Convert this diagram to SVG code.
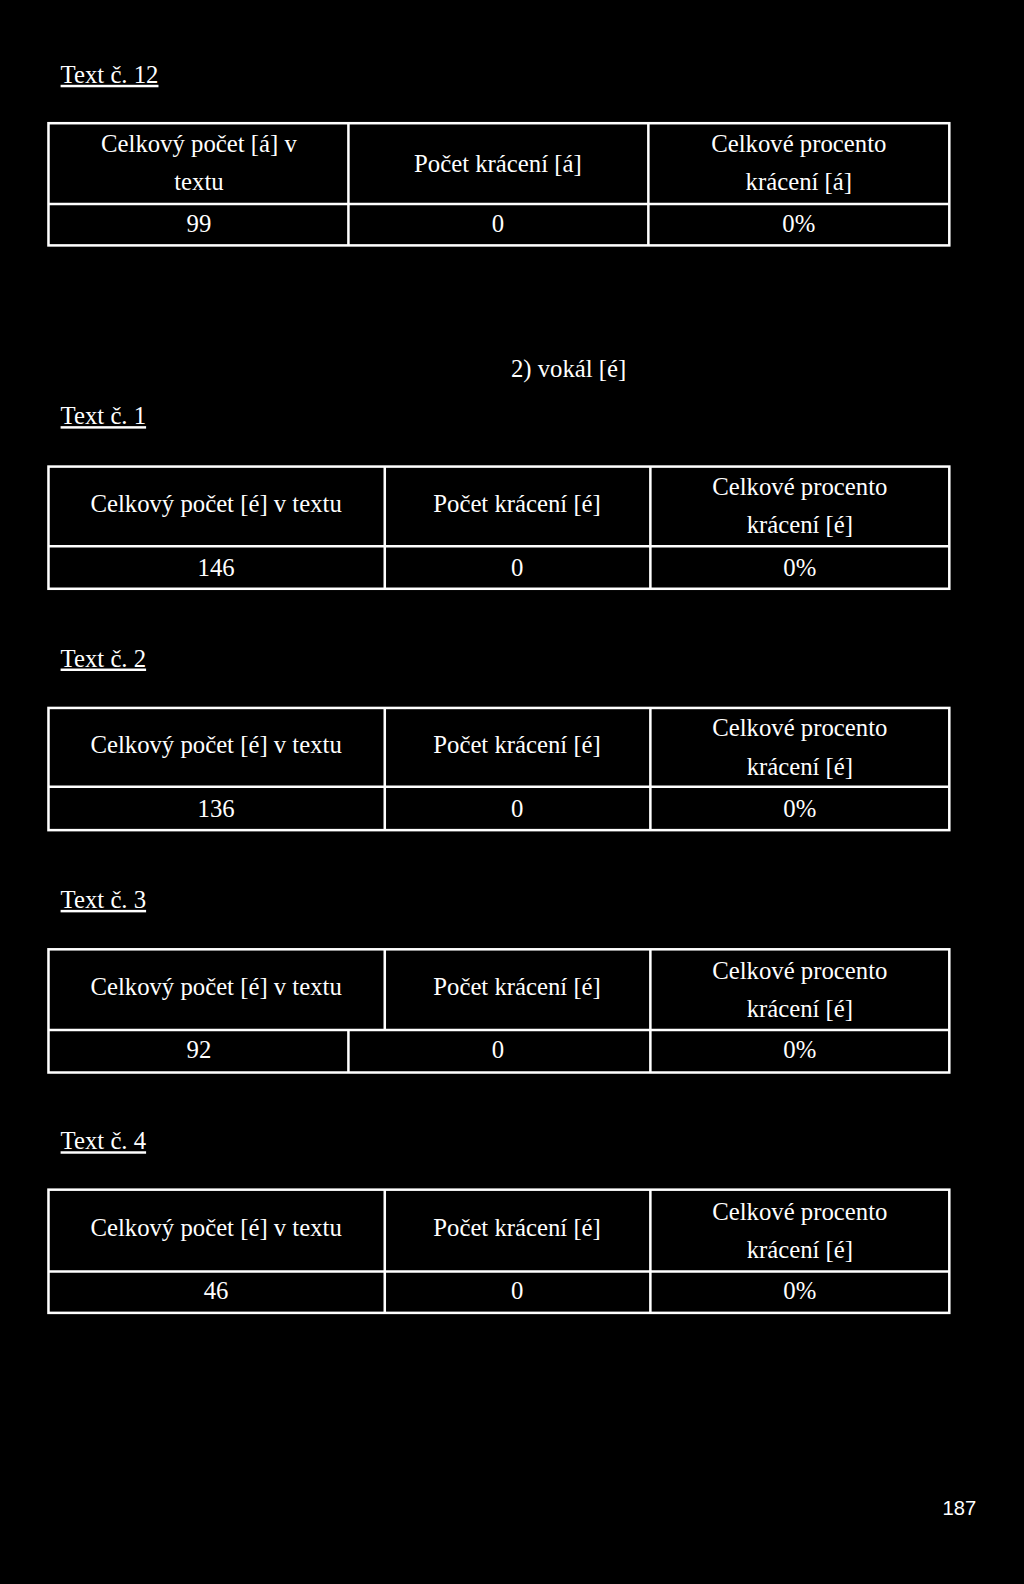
<svg xmlns="http://www.w3.org/2000/svg" width="1024" height="1584" viewBox="0 0 1024 1584">
<style>
text{font-family:"Liberation Serif",serif;font-size:24.5px;fill:#fff}
.c{text-anchor:middle}
.h{text-decoration:underline}
.g line,.g rect{stroke:#fff;stroke-width:2.5;fill:none}
</style>
<rect width="1024" height="1584" style="fill:#000;stroke:none"/>
<g transform="scale(1.0099)">
<text x="60" y="82" class="h">Text č. 12</text>
<g id="t0" class="g">
<rect x="48" y="122" width="892" height="121"/>
<line x1="48" y1="202" x2="940" y2="202"/>
<line x1="345" y1="122" x2="345" y2="243"/>
<line x1="642" y1="122" x2="642" y2="243"/>
<text x="197" y="151" class="c">Celkový počet [á] v</text>
<text x="197" y="188" class="c">textu</text>
<text x="493" y="170" class="c">Počet krácení [á]</text>
<text x="791" y="151" class="c">Celkové procento</text>
<text x="791" y="188" class="c">krácení [á]</text>
<text x="197" y="230" class="c">99</text>
<text x="493" y="230" class="c">0</text>
<text x="791" y="230" class="c">0%</text>
</g>
<text x="563" y="373" class="c">2) vokál [é]</text>
<text x="60" y="420" class="h">Text č. 1</text>
<g id="t1" class="g">
<rect x="48" y="462" width="892" height="121"/>
<line x1="48" y1="541" x2="940" y2="541"/>
<line x1="381" y1="462" x2="381" y2="583"/>
<line x1="644" y1="462" x2="644" y2="583"/>
<text x="214" y="507" class="c">Celkový počet [é] v textu</text>
<text x="512" y="507" class="c">Počet krácení [é]</text>
<text x="792" y="490" class="c">Celkové procento</text>
<text x="792" y="528" class="c">krácení [é]</text>
<text x="214" y="570" class="c">146</text>
<text x="512" y="570" class="c">0</text>
<text x="792" y="570" class="c">0%</text>
</g>
<text x="60" y="660" class="h">Text č. 2</text>
<g id="t2" class="g">
<rect x="48" y="701" width="892" height="121"/>
<line x1="48" y1="779" x2="940" y2="779"/>
<line x1="381" y1="701" x2="381" y2="822"/>
<line x1="644" y1="701" x2="644" y2="822"/>
<text x="214" y="746" class="c">Celkový počet [é] v textu</text>
<text x="512" y="746" class="c">Počet krácení [é]</text>
<text x="792" y="729" class="c">Celkové procento</text>
<text x="792" y="767" class="c">krácení [é]</text>
<text x="214" y="809" class="c">136</text>
<text x="512" y="809" class="c">0</text>
<text x="792" y="809" class="c">0%</text>
</g>
<text x="60" y="899" class="h">Text č. 3</text>
<g id="t3" class="g">
<rect x="48" y="940" width="892" height="122"/>
<line x1="48" y1="1020" x2="940" y2="1020"/>
<line x1="381" y1="940" x2="381" y2="1020"/>
<line x1="345" y1="1020" x2="345" y2="1062"/>
<line x1="644" y1="940" x2="644" y2="1062"/>
<text x="214" y="985" class="c">Celkový počet [é] v textu</text>
<text x="512" y="985" class="c">Počet krácení [é]</text>
<text x="792" y="969" class="c">Celkové procento</text>
<text x="792" y="1007" class="c">krácení [é]</text>
<text x="197" y="1048" class="c">92</text>
<text x="493" y="1048" class="c">0</text>
<text x="792" y="1048" class="c">0%</text>
</g>
<text x="60" y="1138" class="h">Text č. 4</text>
<g id="t4" class="g">
<rect x="48" y="1178" width="892" height="122"/>
<line x1="48" y1="1259" x2="940" y2="1259"/>
<line x1="381" y1="1178" x2="381" y2="1300"/>
<line x1="644" y1="1178" x2="644" y2="1300"/>
<text x="214" y="1224" class="c">Celkový počet [é] v textu</text>
<text x="512" y="1224" class="c">Počet krácení [é]</text>
<text x="792" y="1208" class="c">Celkové procento</text>
<text x="792" y="1246" class="c">krácení [é]</text>
<text x="214" y="1286" class="c">46</text>
<text x="512" y="1286" class="c">0</text>
<text x="792" y="1286" class="c">0%</text>
</g>
<text x="950" y="1500" class="c" style="font-family:'Liberation Sans',sans-serif;font-size:20px">187</text>
</g>
</svg>
